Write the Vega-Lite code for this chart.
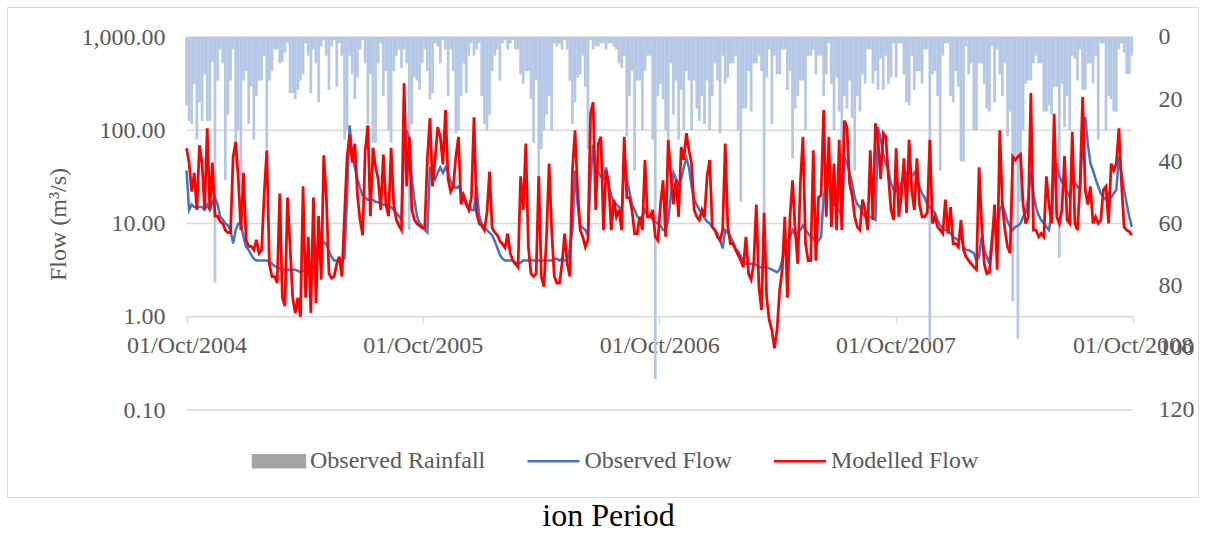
{
"$schema": "https://vega.github.io/schema/vega-lite/v6.json",
"width": 1191, "height": 490,
"autosize": {"type": "none"},
"padding": {"left": 7, "top": 7, "right": 11, "bottom": 36},
"background": "white",
"config": {
 "view": {"stroke": "#d9d9d9", "strokeWidth": 1},
 "axis": {"labelFont": "Liberation Serif", "labelFontSize": 24, "labelColor": "#595959", "titleFont": "Liberation Serif", "titleFontSize": 24, "titleColor": "#595959", "titleFontWeight": "normal"},
 "legend": {"labelFont": "Liberation Serif", "labelFontSize": 24, "labelColor": "#595959"}
},
"title": {"text": "ion Period", "orient": "bottom", "anchor": "middle", "frame": "group", "offset": 4, "dx": 6, "fontSize": 32, "font": "Liberation Serif", "fontWeight": "normal", "color": "#000000"},
"data": {"values": [
{"d":"2004-10-01","r":22,"o":37,"m":64},{"d":"2004-10-05","r":27,"o":14,"m":45},{"d":"2004-10-09","r":28,"o":16,"m":22},{"d":"2004-10-13","r":15,"o":15,"m":35},{"d":"2004-10-17","r":33,"o":15,"m":14},{"d":"2004-10-21","r":21,"o":15,"m":69},{"d":"2004-10-25","r":27,"o":15,"m":44},{"d":"2004-10-29","r":12,"o":14,"m":14},
{"d":"2004-11-02","r":27,"o":16,"m":105},{"d":"2004-11-06","r":27,"o":14,"m":14},{"d":"2004-11-10","r":8,"o":17,"m":45},{"d":"2004-11-14","r":79,"o":19,"m":12},{"d":"2004-11-18","r":14,"o":16,"m":12},{"d":"2004-11-22","r":4,"o":12,"m":10.5},{"d":"2004-11-26","r":8.5,"o":11,"m":10},{"d":"2004-11-30","r":46,"o":10,"m":8.5},
{"d":"2004-12-04","r":25,"o":9.5,"m":8},{"d":"2004-12-08","r":14,"o":8.5,"m":8},{"d":"2004-12-12","r":4,"o":6.1,"m":52},{"d":"2004-12-16","r":41,"o":8.5,"m":75},{"d":"2004-12-20","r":30,"o":10,"m":30},{"d":"2004-12-24","r":49,"o":10,"m":8.5},{"d":"2004-12-28","r":14,"o":7.2,"m":35},
{"d":"2005-01-01","r":11,"o":5.6,"m":6.7},{"d":"2005-01-05","r":28,"o":5.2,"m":5.7},{"d":"2005-01-09","r":16,"o":4.6,"m":5.7},{"d":"2005-01-13","r":33,"o":4.2,"m":5.2},{"d":"2005-01-17","r":19,"o":4.0,"m":6.7},{"d":"2005-01-21","r":14,"o":4.0,"m":4.8},{"d":"2005-01-25","r":14,"o":4.0,"m":5.2},{"d":"2005-01-29","r":6,"o":4.0,"m":21},
{"d":"2005-02-02","r":36,"o":4.0,"m":61},{"d":"2005-02-06","r":14,"o":3.9,"m":3.7},{"d":"2005-02-10","r":11,"o":3.7,"m":2.7},{"d":"2005-02-14","r":4,"o":3.5,"m":2.7},{"d":"2005-02-18","r":4,"o":3.4,"m":2.3},{"d":"2005-02-22","r":8.5,"o":3.3,"m":21},{"d":"2005-02-26","r":8,"o":3.2,"m":1.6},
{"d":"2005-03-02","r":5,"o":3.2,"m":1.3},{"d":"2005-03-06","r":2,"o":3.2,"m":19},{"d":"2005-03-10","r":18,"o":3.2,"m":5.7},{"d":"2005-03-14","r":18,"o":3.2,"m":1.6},{"d":"2005-03-18","r":20,"o":3.2,"m":1.1},{"d":"2005-03-22","r":17,"o":3.1,"m":1.6},{"d":"2005-03-26","r":14,"o":3.0,"m":1.0},{"d":"2005-03-30","r":12,"o":3.1,"m":25},
{"d":"2005-04-03","r":2,"o":3.2,"m":1.6},{"d":"2005-04-07","r":6,"o":3.2,"m":7.2},{"d":"2005-04-11","r":18,"o":3.2,"m":1.1},{"d":"2005-04-15","r":4,"o":3.4,"m":19},{"d":"2005-04-19","r":8.5,"o":3.7,"m":1.4},{"d":"2005-04-23","r":21,"o":7.8,"m":12},{"d":"2005-04-27","r":3,"o":6.6,"m":2.5},
{"d":"2005-05-01","r":1,"o":6.3,"m":54},{"d":"2005-05-05","r":6,"o":6.0,"m":19},{"d":"2005-05-09","r":17,"o":5.0,"m":2.9},{"d":"2005-05-13","r":3,"o":4.4,"m":2.6},{"d":"2005-05-17","r":1,"o":4.0,"m":2.7},{"d":"2005-05-21","r":16,"o":4.0,"m":3.7},{"d":"2005-05-25","r":2,"o":4.0,"m":4.4},{"d":"2005-05-29","r":6,"o":4.0,"m":2.7},
{"d":"2005-06-02","r":33,"o":4.2,"m":12},{"d":"2005-06-06","r":30,"o":20,"m":52},{"d":"2005-06-10","r":6,"o":113,"m":89},{"d":"2005-06-14","r":12,"o":55,"m":45},{"d":"2005-06-18","r":20,"o":40,"m":72},{"d":"2005-06-22","r":13,"o":30,"m":20},{"d":"2005-06-26","r":4,"o":24,"m":11},{"d":"2005-06-30","r":1,"o":20,"m":7.5},
{"d":"2005-07-04","r":8.5,"o":19,"m":60},{"d":"2005-07-08","r":28,"o":18,"m":113},{"d":"2005-07-12","r":12,"o":18,"m":12},{"d":"2005-07-16","r":34,"o":18,"m":65},{"d":"2005-07-20","r":34,"o":17,"m":40},{"d":"2005-07-24","r":8.5,"o":17,"m":30},{"d":"2005-07-28","r":2,"o":16,"m":14},
{"d":"2005-08-01","r":19,"o":16,"m":55},{"d":"2005-08-05","r":11,"o":16,"m":16},{"d":"2005-08-09","r":30,"o":15,"m":12},{"d":"2005-08-13","r":34,"o":15,"m":65},{"d":"2005-08-17","r":11,"o":14,"m":16},{"d":"2005-08-21","r":6,"o":13,"m":11},{"d":"2005-08-25","r":4,"o":12,"m":9.5},{"d":"2005-08-29","r":10,"o":11,"m":8.5},
{"d":"2005-09-02","r":4,"o":60,"m":320},{"d":"2005-09-06","r":8.5,"o":100,"m":25},{"d":"2005-09-10","r":62,"o":80,"m":85},{"d":"2005-09-14","r":28,"o":30,"m":14},{"d":"2005-09-18","r":13,"o":18,"m":11},{"d":"2005-09-22","r":14,"o":12,"m":10},{"d":"2005-09-26","r":17,"o":10,"m":9.5},{"d":"2005-09-30","r":8.5,"o":9.5,"m":9},
{"d":"2005-10-04","r":4,"o":8.5,"m":9},{"d":"2005-10-08","r":11,"o":8,"m":50},{"d":"2005-10-12","r":20,"o":40,"m":135},{"d":"2005-10-16","r":18,"o":35,"m":25},{"d":"2005-10-20","r":2,"o":30,"m":50},{"d":"2005-10-24","r":3,"o":35,"m":108},{"d":"2005-10-28","r":8.5,"o":40,"m":85},
{"d":"2005-11-01","r":1,"o":35,"m":43},{"d":"2005-11-05","r":4,"o":40,"m":165},{"d":"2005-11-09","r":19,"o":35,"m":30},{"d":"2005-11-13","r":4,"o":28,"m":22},{"d":"2005-11-17","r":11,"o":25,"m":25},{"d":"2005-11-21","r":31,"o":24,"m":52},{"d":"2005-11-25","r":30,"o":25,"m":85},{"d":"2005-11-29","r":19,"o":22,"m":16},
{"d":"2005-12-03","r":8.5,"o":20,"m":20},{"d":"2005-12-07","r":18,"o":17,"m":16},{"d":"2005-12-11","r":6,"o":15,"m":14},{"d":"2005-12-15","r":2,"o":14,"m":19},{"d":"2005-12-19","r":6,"o":14,"m":138},{"d":"2005-12-23","r":4,"o":25,"m":13},{"d":"2005-12-27","r":2,"o":12,"m":10},{"d":"2005-12-31","r":19,"o":10,"m":9.5},
{"d":"2006-01-04","r":28,"o":9,"m":8.5},{"d":"2006-01-08","r":30,"o":8.5,"m":13},{"d":"2006-01-12","r":25,"o":8,"m":36},{"d":"2006-01-16","r":11,"o":7.5,"m":9},{"d":"2006-01-20","r":6,"o":6.5,"m":8},{"d":"2006-01-24","r":4,"o":5.5,"m":7.5},{"d":"2006-01-28","r":14,"o":4.6,"m":6.5},
{"d":"2006-02-01","r":2,"o":4.2,"m":6},{"d":"2006-02-05","r":1,"o":4.0,"m":5.5},{"d":"2006-02-09","r":4,"o":4.0,"m":7.8},{"d":"2006-02-13","r":2,"o":4.0,"m":4.8},{"d":"2006-02-17","r":1,"o":4.0,"m":4.0},{"d":"2006-02-21","r":4,"o":3.8,"m":3.7},{"d":"2006-02-25","r":4,"o":3.7,"m":3.4},
{"d":"2006-03-01","r":12,"o":3.8,"m":32},{"d":"2006-03-05","r":15,"o":4.0,"m":14},{"d":"2006-03-09","r":11,"o":4.0,"m":72},{"d":"2006-03-13","r":11,"o":4.0,"m":5.6},{"d":"2006-03-17","r":20,"o":4.0,"m":2.9},{"d":"2006-03-21","r":34,"o":4.0,"m":2.7},{"d":"2006-03-25","r":14,"o":4.0,"m":2.9},{"d":"2006-03-29","r":51,"o":4.0,"m":32},
{"d":"2006-04-02","r":36,"o":4.0,"m":2.7},{"d":"2006-04-06","r":30,"o":4.0,"m":2.1},{"d":"2006-04-10","r":25,"o":4.0,"m":7.2},{"d":"2006-04-14","r":19,"o":4.0,"m":44},{"d":"2006-04-18","r":30,"o":4.0,"m":8.5},{"d":"2006-04-22","r":2,"o":4.2,"m":2.7},{"d":"2006-04-26","r":3,"o":4.2,"m":2.3},{"d":"2006-04-30","r":2,"o":4.0,"m":2.3},
{"d":"2006-05-04","r":4,"o":4.2,"m":3.7},{"d":"2006-05-08","r":1,"o":4.0,"m":7.8},{"d":"2006-05-12","r":4,"o":4.0,"m":3.7},{"d":"2006-05-16","r":14,"o":5.5,"m":2.7},{"d":"2006-05-20","r":28,"o":8.5,"m":37},{"d":"2006-05-24","r":21,"o":37,"m":100},{"d":"2006-05-28","r":13,"o":16,"m":23},
{"d":"2006-06-01","r":12,"o":9.5,"m":8.5},{"d":"2006-06-05","r":6,"o":9,"m":7.2},{"d":"2006-06-09","r":16,"o":8.5,"m":5.6},{"d":"2006-06-13","r":36,"o":7.5,"m":6.6},{"d":"2006-06-17","r":1,"o":30,"m":152},{"d":"2006-06-21","r":4,"o":70,"m":200},{"d":"2006-06-25","r":3,"o":40,"m":14},{"d":"2006-06-29","r":3,"o":35,"m":72},
{"d":"2006-07-03","r":2,"o":32,"m":85},{"d":"2006-07-07","r":2,"o":30,"m":8.5},{"d":"2006-07-11","r":4,"o":40,"m":37},{"d":"2006-07-15","r":2,"o":25,"m":27},{"d":"2006-07-19","r":2,"o":20,"m":8.5},{"d":"2006-07-23","r":3,"o":17,"m":18},{"d":"2006-07-27","r":4,"o":16,"m":11.8},{"d":"2006-07-31","r":8.5,"o":15,"m":14},
{"d":"2006-08-04","r":10,"o":13,"m":8.5},{"d":"2006-08-08","r":6,"o":45,"m":85},{"d":"2006-08-12","r":32,"o":30,"m":19},{"d":"2006-08-16","r":19,"o":22,"m":19},{"d":"2006-08-20","r":11,"o":16,"m":14},{"d":"2006-08-24","r":43,"o":14,"m":7.8},{"d":"2006-08-28","r":14,"o":12,"m":7.8},
{"d":"2006-09-01","r":14,"o":11,"m":11.8},{"d":"2006-09-05","r":30,"o":12,"m":8.5},{"d":"2006-09-09","r":11,"o":14,"m":48},{"d":"2006-09-13","r":6,"o":12,"m":11.8},{"d":"2006-09-17","r":6,"o":12,"m":11.8},{"d":"2006-09-21","r":33,"o":11,"m":14},{"d":"2006-09-25","r":110,"o":10.5,"m":7.2},{"d":"2006-09-29","r":19,"o":10,"m":6.6},
{"d":"2006-10-03","r":15,"o":9.5,"m":16},{"d":"2006-10-07","r":20,"o":8.5,"m":29},{"d":"2006-10-11","r":30,"o":8.5,"m":7.2},{"d":"2006-10-15","r":33,"o":11,"m":79},{"d":"2006-10-19","r":8.5,"o":20,"m":32},{"d":"2006-10-23","r":25,"o":35,"m":16},{"d":"2006-10-27","r":14,"o":30,"m":30},{"d":"2006-10-31","r":33,"o":26,"m":11.8},
{"d":"2006-11-04","r":17,"o":30,"m":66},{"d":"2006-11-08","r":30,"o":40,"m":48},{"d":"2006-11-12","r":11,"o":50,"m":93},{"d":"2006-11-16","r":14,"o":40,"m":61},{"d":"2006-11-20","r":30,"o":25,"m":44},{"d":"2006-11-24","r":14,"o":18,"m":14},{"d":"2006-11-28","r":23,"o":16,"m":11.8},
{"d":"2006-12-02","r":27,"o":14,"m":10.9},{"d":"2006-12-06","r":19,"o":13,"m":14},{"d":"2006-12-10","r":28,"o":11.5,"m":11.8},{"d":"2006-12-14","r":14,"o":10.5,"m":32},{"d":"2006-12-18","r":30,"o":10,"m":48},{"d":"2006-12-22","r":19,"o":9.2,"m":9.2},{"d":"2006-12-26","r":8.5,"o":8.5,"m":8.5},{"d":"2006-12-30","r":14,"o":7.8,"m":7.2},
{"d":"2007-01-03","r":31,"o":6.6,"m":6.6},{"d":"2007-01-07","r":6,"o":5.4,"m":8.5},{"d":"2007-01-11","r":15,"o":8.5,"m":72},{"d":"2007-01-15","r":13,"o":8,"m":9.2},{"d":"2007-01-19","r":8.5,"o":7.2,"m":6.1},{"d":"2007-01-23","r":8.5,"o":6.3,"m":6.1},{"d":"2007-01-27","r":6,"o":5.4,"m":5.2},{"d":"2007-01-31","r":30,"o":5.0,"m":4.6},
{"d":"2007-02-04","r":53,"o":4.5,"m":4.0},{"d":"2007-02-08","r":23,"o":4.0,"m":3.4},{"d":"2007-02-12","r":23,"o":3.7,"m":7.2},{"d":"2007-02-16","r":11,"o":3.7,"m":2.9},{"d":"2007-02-20","r":24,"o":3.7,"m":2.5},{"d":"2007-02-24","r":8.5,"o":3.7,"m":3.7},{"d":"2007-02-28","r":8.5,"o":3.6,"m":16},
{"d":"2007-03-04","r":6,"o":3.4,"m":2.1},{"d":"2007-03-08","r":11,"o":3.4,"m":1.18},{"d":"2007-03-12","r":58,"o":3.4,"m":13},{"d":"2007-03-16","r":13,"o":3.4,"m":1.6},{"d":"2007-03-20","r":4,"o":3.3,"m":0.92},{"d":"2007-03-24","r":28,"o":3.2,"m":0.72},{"d":"2007-03-28","r":6,"o":3.1,"m":0.46},
{"d":"2007-04-01","r":12,"o":3.0,"m":0.72},{"d":"2007-04-05","r":12,"o":3.2,"m":1.9},{"d":"2007-04-09","r":4,"o":4.0,"m":3.2},{"d":"2007-04-13","r":4,"o":5.5,"m":11.8},{"d":"2007-04-17","r":17,"o":6.6,"m":1.6},{"d":"2007-04-21","r":11,"o":7.2,"m":11.8},{"d":"2007-04-25","r":39,"o":8.5,"m":29},{"d":"2007-04-29","r":23,"o":7.5,"m":8.5},
{"d":"2007-05-03","r":19,"o":8,"m":3.7},{"d":"2007-05-07","r":14,"o":8.5,"m":27},{"d":"2007-05-11","r":14,"o":9.5,"m":85},{"d":"2007-05-15","r":30,"o":8.5,"m":6.1},{"d":"2007-05-19","r":6,"o":7.8,"m":4.0},{"d":"2007-05-23","r":6,"o":7.2,"m":4.0},{"d":"2007-05-27","r":4,"o":7,"m":61},{"d":"2007-05-31","r":12,"o":6.2,"m":4.0},
{"d":"2007-06-04","r":6,"o":6.5,"m":19},{"d":"2007-06-08","r":6,"o":7.2,"m":20},{"d":"2007-06-12","r":19,"o":19,"m":165},{"d":"2007-06-16","r":12,"o":27,"m":11.8},{"d":"2007-06-20","r":2,"o":30,"m":85},{"d":"2007-06-24","r":15,"o":19,"m":9.2},{"d":"2007-06-28","r":30,"o":16,"m":44},
{"d":"2007-07-02","r":13,"o":15,"m":8.5},{"d":"2007-07-06","r":24,"o":14,"m":79},{"d":"2007-07-10","r":47,"o":11.8,"m":8.5},{"d":"2007-07-14","r":19,"o":52,"m":127},{"d":"2007-07-18","r":23,"o":44,"m":108},{"d":"2007-07-22","r":14,"o":35,"m":27},{"d":"2007-07-26","r":26,"o":27,"m":20},{"d":"2007-07-30","r":43,"o":19,"m":11.8},
{"d":"2007-08-03","r":19,"o":16,"m":9.2},{"d":"2007-08-07","r":24,"o":15,"m":8.5},{"d":"2007-08-11","r":12,"o":13,"m":18},{"d":"2007-08-15","r":15,"o":11.8,"m":14},{"d":"2007-08-19","r":4,"o":11.8,"m":8.5},{"d":"2007-08-23","r":4,"o":11.8,"m":61},{"d":"2007-08-27","r":15,"o":11.3,"m":10.9},{"d":"2007-08-31","r":11,"o":10.9,"m":119},
{"d":"2007-09-04","r":17,"o":108,"m":79},{"d":"2007-09-08","r":7,"o":79,"m":30},{"d":"2007-09-12","r":17,"o":56,"m":93},{"d":"2007-09-16","r":6,"o":44,"m":85},{"d":"2007-09-20","r":15,"o":37,"m":32},{"d":"2007-09-24","r":13,"o":27,"m":14},{"d":"2007-09-28","r":2,"o":23,"m":10.9},
{"d":"2007-10-02","r":13,"o":23,"m":64},{"d":"2007-10-06","r":2,"o":21,"m":11.8},{"d":"2007-10-10","r":2,"o":27,"m":20},{"d":"2007-10-14","r":12,"o":30,"m":50},{"d":"2007-10-18","r":21,"o":35,"m":13},{"d":"2007-10-22","r":22,"o":35,"m":79},{"d":"2007-10-26","r":6,"o":32,"m":23},{"d":"2007-10-30","r":17,"o":35,"m":14},
{"d":"2007-11-03","r":11,"o":32,"m":50},{"d":"2007-11-07","r":11,"o":25,"m":16},{"d":"2007-11-11","r":15,"o":21,"m":11.8},{"d":"2007-11-15","r":4,"o":19,"m":11.8},{"d":"2007-11-19","r":4,"o":16,"m":13},{"d":"2007-11-23","r":98,"o":15,"m":79},{"d":"2007-11-27","r":12,"o":14,"m":10},
{"d":"2007-12-01","r":11,"o":13,"m":11.8},{"d":"2007-12-05","r":19,"o":10.9,"m":9.2},{"d":"2007-12-09","r":43,"o":9.6,"m":8.5},{"d":"2007-12-13","r":6,"o":8.8,"m":7.8},{"d":"2007-12-17","r":2,"o":8.5,"m":18},{"d":"2007-12-21","r":2,"o":8.5,"m":7.8},{"d":"2007-12-25","r":19,"o":7.8,"m":15},{"d":"2007-12-29","r":21,"o":7.2,"m":6.1},
{"d":"2008-01-02","r":11,"o":6.9,"m":6.1},{"d":"2008-01-06","r":16,"o":6.6,"m":5.6},{"d":"2008-01-10","r":40,"o":7.2,"m":10.9},{"d":"2008-01-14","r":40,"o":5.6,"m":5.2},{"d":"2008-01-18","r":3,"o":5.2,"m":4.4},{"d":"2008-01-22","r":12,"o":5.2,"m":4.0},{"d":"2008-01-26","r":8.5,"o":5.0,"m":3.7},{"d":"2008-01-30","r":30,"o":4.8,"m":3.4},
{"d":"2008-02-03","r":30,"o":4.0,"m":3.2},{"d":"2008-02-07","r":8.5,"o":4.4,"m":40},{"d":"2008-02-11","r":8.5,"o":7.2,"m":10},{"d":"2008-02-15","r":15,"o":5.2,"m":3.7},{"d":"2008-02-19","r":23,"o":4.4,"m":2.9},{"d":"2008-02-23","r":24,"o":3.7,"m":3.0},{"d":"2008-02-27","r":3,"o":7.2,"m":6.1},
{"d":"2008-03-02","r":21,"o":10.9,"m":16},{"d":"2008-03-06","r":4,"o":8.5,"m":3.2},{"d":"2008-03-10","r":12,"o":14,"m":100},{"d":"2008-03-14","r":19,"o":16,"m":16},{"d":"2008-03-18","r":8.5,"o":13,"m":8.5},{"d":"2008-03-22","r":32,"o":10.5,"m":5.6},{"d":"2008-03-26","r":24,"o":9.2,"m":4.8},{"d":"2008-03-30","r":85,"o":8.5,"m":52},
{"d":"2008-04-03","r":41,"o":9.2,"m":48},{"d":"2008-04-07","r":97,"o":9.5,"m":52},{"d":"2008-04-11","r":53,"o":10,"m":55},{"d":"2008-04-15","r":30,"o":11.8,"m":16},{"d":"2008-04-19","r":15,"o":13,"m":10},{"d":"2008-04-23","r":14,"o":19,"m":11.8},{"d":"2008-04-27","r":14,"o":37,"m":250},
{"d":"2008-05-01","r":8.5,"o":21,"m":8.5},{"d":"2008-05-05","r":6,"o":15,"m":8.5},{"d":"2008-05-09","r":8.5,"o":12.3,"m":7.2},{"d":"2008-05-13","r":8.5,"o":10.9,"m":7.8},{"d":"2008-05-17","r":24,"o":10,"m":7.2},{"d":"2008-05-21","r":24,"o":9.2,"m":32},{"d":"2008-05-25","r":22,"o":8.5,"m":16},{"d":"2008-05-29","r":25,"o":13,"m":10},
{"d":"2008-06-02","r":16,"o":32,"m":150},{"d":"2008-06-06","r":16,"o":44,"m":11.8},{"d":"2008-06-10","r":71,"o":32,"m":10},{"d":"2008-06-14","r":15,"o":28,"m":14},{"d":"2008-06-18","r":29,"o":25,"m":53},{"d":"2008-06-22","r":19,"o":22,"m":10.9},{"d":"2008-06-26","r":30,"o":19,"m":10},{"d":"2008-06-30","r":6,"o":30,"m":96},
{"d":"2008-07-04","r":7,"o":27,"m":10},{"d":"2008-07-08","r":14,"o":25,"m":8.5},{"d":"2008-07-12","r":4,"o":23,"m":27},{"d":"2008-07-16","r":17,"o":79,"m":229},{"d":"2008-07-20","r":17,"o":140,"m":23},{"d":"2008-07-24","r":8.5,"o":72,"m":16},{"d":"2008-07-28","r":8.5,"o":44,"m":25},
{"d":"2008-08-01","r":15,"o":37,"m":10},{"d":"2008-08-05","r":6,"o":30,"m":11.8},{"d":"2008-08-09","r":33,"o":25,"m":10},{"d":"2008-08-13","r":2,"o":21,"m":10.9},{"d":"2008-08-17","r":2,"o":19,"m":23},{"d":"2008-08-21","r":30,"o":18,"m":25},{"d":"2008-08-25","r":19,"o":21,"m":10},{"d":"2008-08-29","r":20,"o":19,"m":44},
{"d":"2008-09-02","r":24,"o":21,"m":37},{"d":"2008-09-06","r":24,"o":23,"m":44},{"d":"2008-09-10","r":4,"o":52,"m":105},{"d":"2008-09-14","r":2,"o":35,"m":27},{"d":"2008-09-18","r":5,"o":23,"m":9.2},{"d":"2008-09-22","r":12,"o":16.4,"m":8.5},{"d":"2008-09-26","r":12,"o":11.8,"m":8.2},{"d":"2008-09-30","r":6,"o":9.2,"m":7.5}
]},
"encoding": {
 "x": {"field": "d", "type": "temporal",
  "scale": {"type": "utc", "domain": [{"year": 2004, "month": 1, "date": 5, "hours": 12, "utc": true}, {"year": 2009, "month": 1, "date": 2, "hours": 10, "utc": true}]},
  "axis": {"orient": "bottom", "offset": -181, "title": null, "format": "%d/%b/%Y", "domain": false, "grid": false, "tickSize": 7, "tickColor": "#d9d9d9", "tickWidth": 1.5, "labelPadding": 10, "labelFlush": false, "labelOverlap": false,
   "values": [{"year": 2004, "month": 10, "date": 1, "utc": true}, {"year": 2005, "month": 10, "date": 1, "utc": true}, {"year": 2006, "month": 10, "date": 1, "utc": true}, {"year": 2007, "month": 10, "date": 1, "utc": true}, {"year": 2008, "month": 10, "date": 1, "utc": true}]}
 }
},
"layer": [
 {
  "data": {"values": [
   {"d":"2004-10-01","g":0.1},{"d":"2008-10-01","g":0.1},
   {"d":"2004-10-01","g":1},{"d":"2008-10-01","g":1},
   {"d":"2004-10-01","g":10},{"d":"2008-10-01","g":10},
   {"d":"2004-10-01","g":100},{"d":"2008-10-01","g":100},
   {"d":"2004-10-01","g":1000},{"d":"2008-10-01","g":1000}
  ]},
  "mark": {"type": "line", "color": "#d9d9d9", "strokeWidth": 1.5},
  "encoding": {
   "detail": {"field": "g", "type": "nominal"},
   "y": {"field": "g", "type": "quantitative",
    "scale": {"type": "log", "domain": [0.01167, 2098], "nice": false},
    "axis": {"orient": "left", "offset": -176, "values": [0.1, 1, 10, 100, 1000], "format": ",.2f", "ticks": false, "domain": false, "grid": false, "labelPadding": 18, "labelBaseline": "middle",
     "title": "Flow (m³/s)", "titleAngle": -90, "titleX": -125, "titleY": 217, "titleAlign": "center", "titleBaseline": "middle"}}
  }
 },
 {
  "mark": {"type": "bar", "size": 2.7, "color": "#b4c7e7"},
  "encoding": {
   "y": {"field": "r", "type": "quantitative",
    "scale": {"domain": [-9.65, 148], "reverse": true, "nice": false, "zero": false},
    "axis": {"orient": "right", "offset": -61, "values": [0, 20, 40, 60, 80, 100, 120], "ticks": false, "domain": false, "grid": false, "labelPadding": 21, "title": null}},
   "y2": {"datum": 0}
  }
 },
 {
  "mark": {"type": "line", "strokeWidth": 2.5},
  "encoding": {
   "y": {"field": "o", "type": "quantitative", "scale": {"type": "log", "domain": [0.01167, 2098], "nice": false}, "axis": null},
   "color": {"datum": "Observed Flow", "type": "nominal",
    "scale": {"domain": ["Observed Rainfall", "Observed Flow", "Modelled Flow"], "range": ["#a5a5a5", "#4472c4", "#ff0000"]},
    "legend": {"orient": "none", "legendX": 244.5, "legendY": 426.5, "direction": "horizontal", "title": null, "labelOffset": 3.5, "columnPadding": 36.5, "padding": 0, "labelLimit": 400, "symbolFillColor": "#a5a5a5",
     "encode": {"symbols": {"update": {
      "size": {"value": 2704},
      "shape": {"signal": "datum.value === 'Observed Rainfall' ? 'M-1,-0.23H1V0.23H-1Z' : 'M-1,0H1'"},
      "fill": {"value": "#a5a5a5"},
      "stroke": {"signal": "datum.value === 'Observed Rainfall' ? '#b4c7e7' : (datum.value === 'Observed Flow' ? '#4472c4' : '#ff0000')"},
      "strokeWidth": {"value": 2.5},
      "opacity": {"value": 1}, "fillOpacity": {"value": 1}, "strokeOpacity": {"value": 1}}}}}}
  }
 },
 {
  "mark": {"type": "line", "strokeWidth": 2.75},
  "encoding": {
   "y": {"field": "m", "type": "quantitative", "scale": {"type": "log", "domain": [0.01167, 2098], "nice": false}, "axis": null},
   "color": {"datum": "Modelled Flow", "type": "nominal"}
  }
 }
],
"resolve": {"scale": {"y": "independent"}}
}
